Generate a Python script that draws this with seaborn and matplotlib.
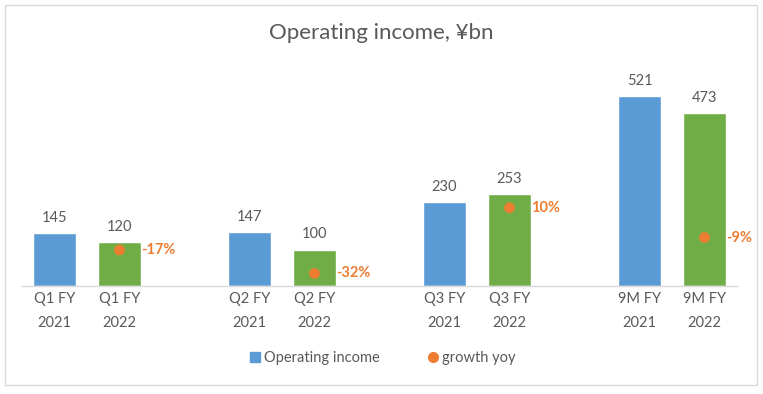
import matplotlib
matplotlib.use("Agg")
import matplotlib.pyplot as plt
import seaborn as sns
import pandas as pd
from matplotlib.lines import Line2D
from matplotlib.patches import Rectangle

periods = ["Q1", "Q2", "Q3", "9M"]
years = ["2021", "2022"]
income_2021 = [145, 147, 230, 521]
income_2022 = [120, 100, 253, 473]
growth = [-17, -32, 10, -9]

BLUE = "#5B9BD5"
GREEN = "#70AD47"
ORANGE = "#ED7D31"
GRAY = "#595959"

rows = []
for i, p in enumerate(periods):
    rows.append({"pos": i * 3, "label": f"{p} FY\n2021", "year": "2021", "value": income_2021[i]})
    rows.append({"pos": i * 3 + 1, "label": f"{p} FY\n2022", "year": "2022", "value": income_2022[i]})
df = pd.DataFrame(rows)
gdf = pd.DataFrame({"pos": [i * 3 + 1 for i in range(len(periods))], "growth": growth})

sns.set_theme(style="white")
plt.rcParams['font.family'] = ['Lato', 'DejaVu Sans']

fig = plt.figure(figsize=(7.63, 3.94), dpi=100)
fig.patches.append(Rectangle((5 / 763, 1 - 385 / 394), 752 / 763, 380 / 394,
                             transform=fig.transFigure, fill=False,
                             edgecolor="#D9D9D9", linewidth=1))
ax = fig.add_axes([22 / 763, 1 - 286 / 394, 715 / 763, (286 - 67) / 394])

sns.barplot(data=df, x="pos", y="value", hue="year", palette=[BLUE, GREEN],
            native_scale=True, width=0.66, dodge=False, ax=ax, legend=False,
            saturation=1)
ax.set_xlim(-0.5, 10.5)
ax.set_ylim(0, 600)
ax.set_xticks(df["pos"])
ax.set_xticklabels(df["label"], color=GRAY, fontsize=10.5, linespacing=1.95)
ax.tick_params(axis="x", length=0, pad=4)
ax.set_yticks([])
ax.set_xlabel("")
ax.set_ylabel("")
for s in ["top", "right", "left"]:
    ax.spines[s].set_visible(False)
ax.spines["bottom"].set_color("#D9D9D9")
ax.spines["bottom"].set_linewidth(1)

for _, r in df.iterrows():
    ax.text(r["pos"], r["value"] + 22, f"{r['value']}", ha="center", va="bottom",
            color=GRAY, fontsize=10.5)

ax2 = ax.twinx()
sns.scatterplot(data=gdf, x="pos", y="growth", color=ORANGE, s=60, ax=ax2,
                edgecolor="none", zorder=5)
ax2.set_ylim(-40, 100)
ax2.set_xlim(-0.5, 10.5)
ax2.set_yticks([])
ax2.set_ylabel("")
for s in ["top", "right", "left", "bottom"]:
    ax2.spines[s].set_visible(False)
for _, r in gdf.iterrows():
    ax2.text(r["pos"] + 0.33, r["growth"], f"{int(r['growth'])}%", ha="left", va="center",
             color=ORANGE, fontsize=10.5, fontweight="bold")

fig.text(0.5, 1 - 33 / 394, "Operating income, ¥bn", ha="center", va="center",
         color=GRAY, fontsize=16)

handles = [Line2D([], [], marker="s", linestyle="none", color=BLUE, markersize=7),
           Line2D([], [], marker="o", linestyle="none", color=ORANGE, markersize=7)]
fig.legend(handles, ["Operating income", "growth yoy"], loc="center",
           bbox_to_anchor=(0.5, 1 - 358 / 394), ncol=2, frameon=False,
           fontsize=10.5, labelcolor=GRAY, handletextpad=0.1, columnspacing=3.2,
           handlelength=1)

fig.savefig("out.png", dpi=100)
